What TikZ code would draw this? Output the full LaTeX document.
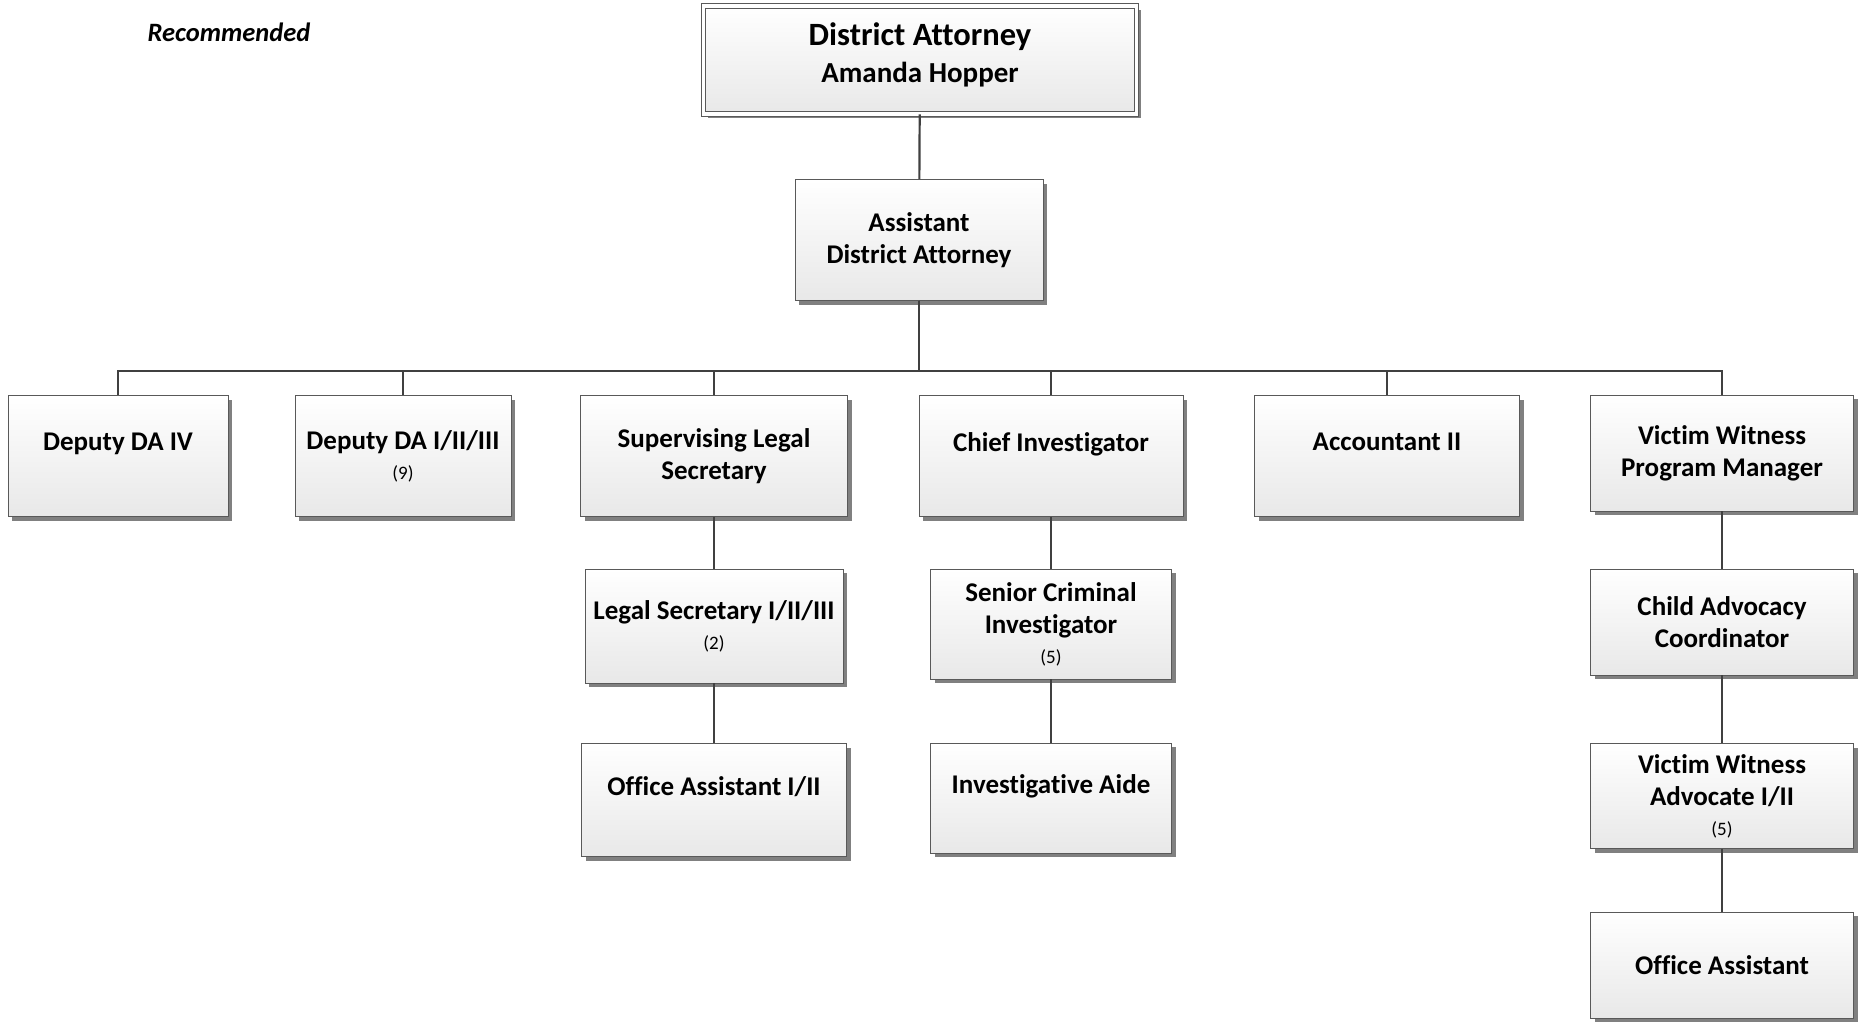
\documentclass[tikz,border=0pt]{standalone}
\usepackage{fontspec}
\setmainfont{Carlito}[Ligatures=CommonOff]
\usetikzlibrary{shadows}

\newcommand{\cnt}[1]{\\[-2pt]{\fontsize{19}{30}\mdseries\selectfont(#1)}}

\tikzset{
  job/.style={draw=black!65, line width=0.9pt, top color=white, bottom color=black!9,
    drop shadow={shadow xshift=4pt, shadow yshift=-4pt, fill=black!50, opacity=1},
    align=center, inner sep=2pt, font=\bfseries\fontsize{27}{32}\selectfont},
  box/.style 2 args={minimum width=#1pt, minimum height=#2pt},
  solo/.style={text depth=28pt},
  link/.style={draw=black!75, line width=2.2pt},
}

\begin{document}
\begin{tikzpicture}[x=1pt,y=-1pt]
\useasboundingbox (0,0) rectangle (1860,1029);
\node[font=\bfseries\itshape\fontsize{26.5}{30}\selectfont] (rec) at (229,32) {Recommended};

% top of the office
\node[job,box={433}{108},double=white,double distance=3.5pt,text depth=15pt,
  font=\bfseries\fontsize{32.5}{37}\selectfont] (da) at (920,60)
  {District Attorney\\\fontsize{29}{33}\selectfont Amanda Hopper};
\node[job,box={248}{121}] (ada) at (919,240) {Assistant\\District Attorney};

% first row
\node[job,solo,box={220}{121}] (dda4) at (118,456) {Deputy DA IV};
\node[job,box={216}{121}] (dda) at (403,456) {Deputy DA I/II/III\cnt{9}};
\node[job,box={267}{121}] (sls) at (714,456) {Supervising Legal\\Secretary};
\node[job,solo,box={264}{121}] (ci) at (1051,456) {Chief Investigator};
\node[job,solo,box={265}{121}] (acc) at (1387,456) {Accountant II};
\node[job,box={263}{116}] (vwpm) at (1722,453) {Victim Witness\\Program Manager};

% legal staff
\node[job,box={258}{114}] (ls) at (714,626) {Legal Secretary I/II/III\cnt{2}};
\node[job,solo,box={265}{113}] (oa1) at (714,800) {Office Assistant I/II};

% investigations
\node[job,box={241}{110}] (sci) at (1051,624) {Senior Criminal\\Investigator\cnt{5}};
\node[job,solo,box={241}{110}] (ia) at (1051,798) {Investigative Aide};

% victim witness
\node[job,box={263}{106}] (cac) at (1722,622) {Child Advocacy\\Coordinator};
\node[job,box={263}{105}] (vwa) at (1722,796) {Victim Witness\\Advocate I/II\cnt{5}};
\node[job,box={263}{106}] (oa) at (1722,965) {Office Assistant};

\coordinate (bus) at (0,371);
\draw[link] (da) -- (ada);
\foreach \n in {dda4,dda,sls,ci,acc,vwpm}
  \draw[link] (ada.south) -- (ada.south |- bus) -| (\n.north);
\draw[link] (sls) -- (ls);
\draw[link] (ls) -- (oa1);
\draw[link] (ci) -- (sci);
\draw[link] (sci) -- (ia);
\draw[link] (vwpm) -- (cac);
\draw[link] (cac) -- (vwa);
\draw[link] (vwa) -- (oa);
\end{tikzpicture}
\end{document}
